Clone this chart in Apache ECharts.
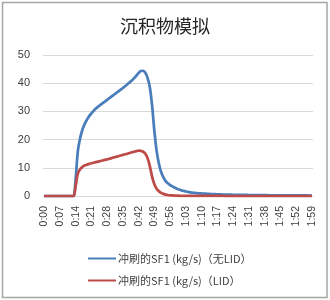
<!DOCTYPE html>
<html>
<head>
<meta charset="utf-8">
<script src="https://cdn.jsdelivr.net/npm/echarts@6/dist/echarts.min.js"></script>
<style>
  html, body { margin: 0; padding: 0; background: #fff; }
  #chart { width: 330px; height: 300px; }
</style>
</head>
<body>
<div id="chart"></div>
<script>
// one point per minute, 0:00 .. 1:59
const minutes = [];
for (let m = 0; m < 120; m++) {
  minutes.push(Math.floor(m / 60) + ':' + String(m % 60).padStart(2, '0'));
}

const yTicks = [0, 10, 20, 30, 40, 50];

const seriesNames = ['冲刷的SF1 (kg/s)（无LID）', '冲刷的SF1 (kg/s)（LID）'];

// 无LID
const noLid = [
  0, 0, 0, 0, 0, 0, 0, 0, 0, 0,
  0, 0, 0, 0, 6, 16, 20.5, 23.5, 25.5, 27,
  28.3, 29.3, 30.2, 31, 31.7, 32.3, 32.9, 33.5, 34.1, 34.7,
  35.3, 35.9, 36.5, 37.1, 37.7, 38.3, 38.9, 39.6, 40.3, 41,
  41.8, 42.7, 43.6, 44.3, 44.4, 43.7, 41.8, 38.5, 32, 23,
  16, 11.5, 8.5, 6.6, 5.3, 4.5, 3.9, 3.4, 3, 2.6,
  2.3, 2, 1.8, 1.6, 1.45, 1.3, 1.2, 1.1, 1, 0.95,
  0.9, 0.85, 0.8, 0.75, 0.7, 0.66, 0.63, 0.6, 0.57, 0.54,
  0.52, 0.5, 0.48, 0.46, 0.44, 0.42, 0.41, 0.4, 0.38, 0.37,
  0.36, 0.35, 0.34, 0.33, 0.32, 0.31, 0.3, 0.29, 0.28, 0.27,
  0.26, 0.25, 0.25, 0.24, 0.24, 0.23, 0.23, 0.22, 0.22, 0.21,
  0.21, 0.2, 0.2, 0.19, 0.19, 0.18, 0.18, 0.18, 0.17, 0.17
];

// LID
const withLid = [
  0, 0, 0, 0, 0, 0, 0, 0, 0, 0,
  0, 0, 0, 0, 3.5, 8, 9.5, 10.3, 10.8, 11.1,
  11.4, 11.6, 11.8, 12, 12.2, 12.4, 12.6, 12.8, 13, 13.2,
  13.45, 13.7, 13.9, 14.1, 14.35, 14.6, 14.8, 15, 15.25, 15.5,
  15.7, 15.9, 16.05, 16, 15.7, 15, 13.4, 10.5, 6.8, 4.2,
  2.6, 1.7, 1.1, 0.75, 0.5, 0.35, 0.25, 0.18, 0.13, 0.1,
  0.08, 0.06, 0.05, 0.04, 0.03, 0.03, 0.02, 0.02, 0.01, 0.01,
  0.01, 0.01, 0.01, 0.01, 0.01, 0.01, 0.01, 0.01, 0.01, 0.01,
  0, 0, 0, 0, 0, 0, 0, 0, 0, 0,
  0, 0, 0, 0, 0, 0, 0, 0, 0, 0,
  0, 0, 0, 0, 0, 0, 0, 0, 0, 0,
  0, 0, 0, 0, 0, 0, 0, 0, 0, 0
];

const BLUE = '#4a7ebb';
const RED = '#be4b48';
const TEXT = '#404040';
const FONT = '"Noto Sans CJK SC", "Liberation Sans", sans-serif';

const chart = echarts.init(document.getElementById('chart'));

chart.setOption({
  animation: false,
  backgroundColor: '#fff',
  title: {
    text: '沉积物模拟',
    left: 'center',
    top: 12,
    textStyle: { color: '#262626', fontSize: 18, fontWeight: 'normal', fontFamily: FONT },
  },
  graphic: [{
    type: 'rect',
    shape: { x: 2.5, y: 2.5, width: 324.5, height: 295 },
    style: { fill: 'none', stroke: '#a6a6a6', lineWidth: 1.5 },
    silent: true,
  }],
  grid: { left: 43, right: 17, top: 55, bottom: 104 },
  legend: {
    orient: 'vertical',
    left: 83,
    top: 248,
    itemGap: 11,
    itemWidth: 28,
    itemHeight: 14,
    textStyle: { color: TEXT, fontSize: 11, fontFamily: FONT, padding: [0, 0, 0, -3] },
    data: seriesNames.map(n => ({ name: n, icon: 'path://M0,6.5 L28,6.5 L28,8.5 L0,8.5 Z' })),
  },
  xAxis: {
    type: 'category',
    data: minutes,
    boundaryGap: true,
    axisLine: { lineStyle: { color: '#d9d9d9' } },
    axisTick: { show: false },
    axisLabel: {
      interval: 6,
      rotate: 90,
      margin: 10,
      color: TEXT,
      fontSize: 10.5,
      fontFamily: '"Liberation Sans", sans-serif',
    },
    splitLine: { show: false },
  },
  yAxis: {
    type: 'value',
    min: yTicks[0],
    max: yTicks[yTicks.length - 1],
    interval: 10,
    axisLine: { show: false },
    axisTick: { show: false },
    splitLine: { lineStyle: { color: '#d9d9d9' } },
    axisLabel: {
      margin: 13,
      color: TEXT,
      fontSize: 11,
      fontFamily: '"Liberation Sans", sans-serif',
    },
  },
  series: [
    {
      name: seriesNames[0],
      type: 'line',
      data: noLid,
      smooth: 0.4,
      symbol: 'none',
      lineStyle: { color: BLUE, width: 2.75 },
      itemStyle: { color: BLUE },
      z: 2,
    },
    {
      name: seriesNames[1],
      type: 'line',
      data: withLid,
      smooth: 0.4,
      symbol: 'none',
      lineStyle: { color: RED, width: 2.75 },
      itemStyle: { color: RED },
      z: 3,
    },
  ],
});
</script>
</body>
</html>
